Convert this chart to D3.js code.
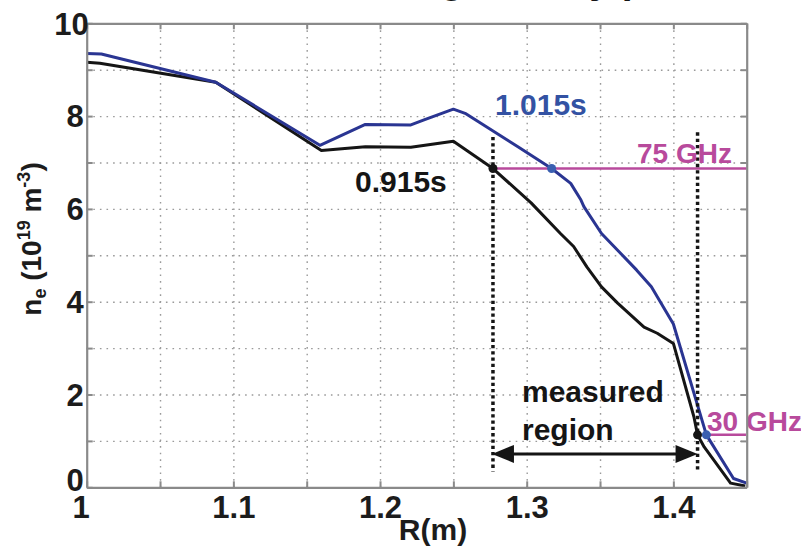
<!DOCTYPE html>
<html>
<head>
<meta charset="utf-8">
<script src="https://cdn.jsdelivr.net/npm/d3@7"></script>
<style>
  html, body { margin: 0; padding: 0; background: #fff; }
  svg { display: block; font-family: "Liberation Sans", Arial, Helvetica, sans-serif; }
</style>
</head>
<body>
<svg id="chart" width="801" height="548"></svg>
<script>
// Electron density profiles n_e(R) at two times
const R_0915 = [1.000, 1.009, 1.088, 1.160, 1.190, 1.221, 1.250, 1.277, 1.303, 1.323, 1.332, 1.341, 1.351, 1.362, 1.380, 1.389, 1.400, 1.414, 1.4165, 1.421, 1.439, 1.449];
const ne_0915 = [9.16, 9.14, 8.73, 7.26, 7.34, 7.33, 7.46, 6.87, 6.13, 5.47, 5.19, 4.75, 4.32, 3.97, 3.45, 3.32, 3.10, 1.52, 1.13, 0.87, 0.09, 0.03];

const R_1015 = [1.000, 1.010, 1.088, 1.159, 1.190, 1.221, 1.230, 1.250, 1.258, 1.294, 1.317, 1.330, 1.337, 1.339, 1.351, 1.362, 1.375, 1.385, 1.400, 1.4225, 1.441, 1.450];
const ne_1015 = [9.35, 9.34, 8.73, 7.37, 7.82, 7.81, 7.92, 8.15, 8.06, 7.34, 6.87, 6.55, 6.19, 6.05, 5.47, 5.11, 4.68, 4.32, 3.52, 1.13, 0.19, 0.09];

const seriesNames = ["0.915s", "1.015s"];

// Cutoff layers: density and where each profile crosses it
const cutoffLabels = ["75 GHz", "30 GHz"];
const cutoffDensity = [6.87, 1.13];
const cutoffR_0915 = [1.277, 1.4165];
const cutoffR_1015 = [1.317, 1.4225];

// Axis ticks
const xTicks = [1.00, 1.05, 1.10, 1.15, 1.20, 1.25, 1.30, 1.35, 1.40, 1.45];
const xTickLabels = ["1", "", "1.1", "", "1.2", "", "1.3", "", "1.4", ""];
const yTicks = [0, 1, 2, 3, 4, 5, 6, 7, 8, 9, 10];
const yTickLabels = ["0", "", "2", "", "4", "", "6", "", "8", "", "10"];

const svg = d3.select("#chart");
const pL = 86.7, pR = 746.7, pT = 23.3, pB = 487.3;
const x = d3.scaleLinear().domain([1, 1.45]).range([pL, pR]);
const y = d3.scaleLinear().domain([0, 10]).range([pB, pT]);

const FRAME = "#8a8a8a", GRID = "#9a9a9a";
const BLUE = "#2a3592", BLUE_TXT = "#3352a3", MAG = "#b84a9c", INK = "#151515";

// Title (runs off the top edge; only its descenders show)
svg.append("text")
  .attr("x", 301).attr("y", -7.5)
  .attr("font-size", 39).attr("font-weight", "bold").attr("fill", INK)
  .text("Evolving density profile");

// Dotted grid
const grid = svg.append("g");
grid.append("g").attr("transform", `translate(0,${pB})`)
  .call(d3.axisBottom(x).tickValues(xTicks.slice(1, -1)).tickSize(-(pB - pT)).tickFormat(""))
  .call(g => g.select(".domain").remove());
grid.append("g").attr("transform", `translate(${pL},0)`)
  .call(d3.axisLeft(y).tickValues(yTicks.slice(1, -1)).tickSize(-(pR - pL)).tickFormat(""))
  .call(g => g.select(".domain").remove());
grid.selectAll("line").attr("stroke", GRID).attr("stroke-width", 1.4).attr("stroke-dasharray", "1.6 5");

// Profiles
const line = d3.line().x(d => x(d[0])).y(d => y(d[1]));
const d0915 = R_0915.map((r, i) => [r, ne_0915[i]]);
const d1015 = R_1015.map((r, i) => [r, ne_1015[i]]);
svg.append("path").datum(d0915).attr("d", line)
  .attr("fill", "none").attr("stroke", INK).attr("stroke-width", 3).attr("stroke-linejoin", "round");
svg.append("path").datum(d1015).attr("d", line)
  .attr("fill", "none").attr("stroke", BLUE).attr("stroke-width", 3).attr("stroke-linejoin", "round");

// Cutoff lines
svg.append("line")
  .attr("x1", x(cutoffR_0915[0])).attr("x2", x(1.45))
  .attr("y1", y(cutoffDensity[0])).attr("y2", y(cutoffDensity[0]))
  .attr("stroke", MAG).attr("stroke-width", 2.5);
svg.append("line")
  .attr("x1", x(cutoffR_1015[1])).attr("x2", x(1.4495))
  .attr("y1", y(cutoffDensity[1])).attr("y2", y(cutoffDensity[1]))
  .attr("stroke", MAG).attr("stroke-width", 2.5);

// Measured-region boundaries
const regionTop = [7.55, 7.65];
[0, 1].forEach(i => {
  svg.append("line")
    .attr("x1", x(cutoffR_0915[i])).attr("x2", x(cutoffR_0915[i]))
    .attr("y1", y(regionTop[i])).attr("y2", y(0.34))
    .attr("stroke", INK).attr("stroke-width", 3.5).attr("stroke-dasharray", "3.3 3");
});

// Crossing markers
cutoffDensity.forEach((n, i) => {
  svg.append("circle").attr("cx", x(cutoffR_0915[i])).attr("cy", y(n)).attr("r", 4.5).attr("fill", INK);
  svg.append("circle").attr("cx", x(cutoffR_1015[i])).attr("cy", y(n)).attr("r", 4.5).attr("fill", "#3a5fb0");
});

// Double-headed arrow spanning the measured region
{
  const ay = y(0.72), x1 = x(cutoffR_0915[0]) - 1, x2 = x(cutoffR_0915[1]), hl = 22, hw = 9;
  svg.append("line").attr("x1", x1 + hl - 2).attr("x2", x2 - hl + 2).attr("y1", ay).attr("y2", ay)
    .attr("stroke", INK).attr("stroke-width", 3);
  svg.append("path").attr("d", `M${x1},${ay}L${x1 + hl},${ay - hw}L${x1 + hl},${ay + hw}Z`).attr("fill", INK);
  svg.append("path").attr("d", `M${x2},${ay}L${x2 - hl},${ay - hw}L${x2 - hl},${ay + hw}Z`).attr("fill", INK);
}

// Annotations
const ann = (tx, ty, txt, size, fill) => svg.append("text")
  .attr("x", tx).attr("y", ty).attr("font-size", size).attr("font-weight", "bold").attr("fill", fill).text(txt);
ann(495, 115, seriesNames[1], 30, BLUE_TXT);
ann(355, 192, seriesNames[0], 30, INK);
ann(637, 163, cutoffLabels[0], 28, MAG);
ann(707, 431, cutoffLabels[1], 28, MAG);
ann(522, 402, "measured", 30, INK);
ann(522, 440, "region", 30, INK);

// Axes frame with inward ticks on all four sides
const styleAxis = g => {
  g.select(".domain").attr("stroke", FRAME).attr("stroke-width", 2.2);
  g.selectAll(".tick line").attr("stroke", FRAME).attr("stroke-width", 2);
  g.attr("font-family", null).attr("font-size", 31).attr("font-weight", "bold");
  g.selectAll("text").attr("fill", "#1c1c1c");
};
svg.append("g").attr("transform", `translate(0,${pB})`)
  .call(d3.axisBottom(x).tickValues(xTicks).tickSizeInner(-6).tickSizeOuter(0)
    .tickFormat((d, i) => xTickLabels[i]))
  .call(styleAxis)
  .call(g => g.selectAll("text").attr("y", 31).attr("dy", null)
    .attr("dx", d => d === 1 ? -6 : 0));
svg.append("g").attr("transform", `translate(0,${pT})`)
  .call(d3.axisTop(x).tickValues(xTicks).tickSizeInner(-6).tickSizeOuter(0).tickFormat(""))
  .call(styleAxis);
svg.append("g").attr("transform", `translate(${pL},0)`)
  .call(d3.axisLeft(y).tickValues(yTicks).tickSizeInner(-6).tickSizeOuter(0)
    .tickFormat((d, i) => yTickLabels[i]))
  .call(styleAxis)
  .call(g => g.selectAll("text").attr("x", d => d === 10 ? 2 : -3)
    .attr("dy", d => d === 0 ? "0.1em" : "0.35em"));
svg.append("g").attr("transform", `translate(${pR},0)`)
  .call(d3.axisRight(y).tickValues(yTicks).tickSizeInner(-6).tickSizeOuter(0).tickFormat(""))
  .call(styleAxis);

// Axis titles
svg.append("text").attr("x", 433).attr("y", 540).attr("text-anchor", "middle")
  .attr("font-size", 30).attr("font-weight", "bold").attr("fill", "#1c1c1c").text("R(m)");

const yl = svg.append("text").attr("transform", "translate(41,239) rotate(-90)")
  .attr("text-anchor", "middle").attr("font-size", 28).attr("font-weight", "bold").attr("fill", "#1c1c1c");
yl.append("tspan").text("n");
yl.append("tspan").attr("font-size", 18).attr("dy", 5).text("e");
yl.append("tspan").attr("dy", -5).text(" (10");
yl.append("tspan").attr("font-size", 18).attr("dy", -11).text("19");
yl.append("tspan").attr("dy", 11).text(" m");
yl.append("tspan").attr("font-size", 18).attr("dy", -11).text("-3");
yl.append("tspan").attr("dy", 11).text(")");
</script>
</body>
</html>
